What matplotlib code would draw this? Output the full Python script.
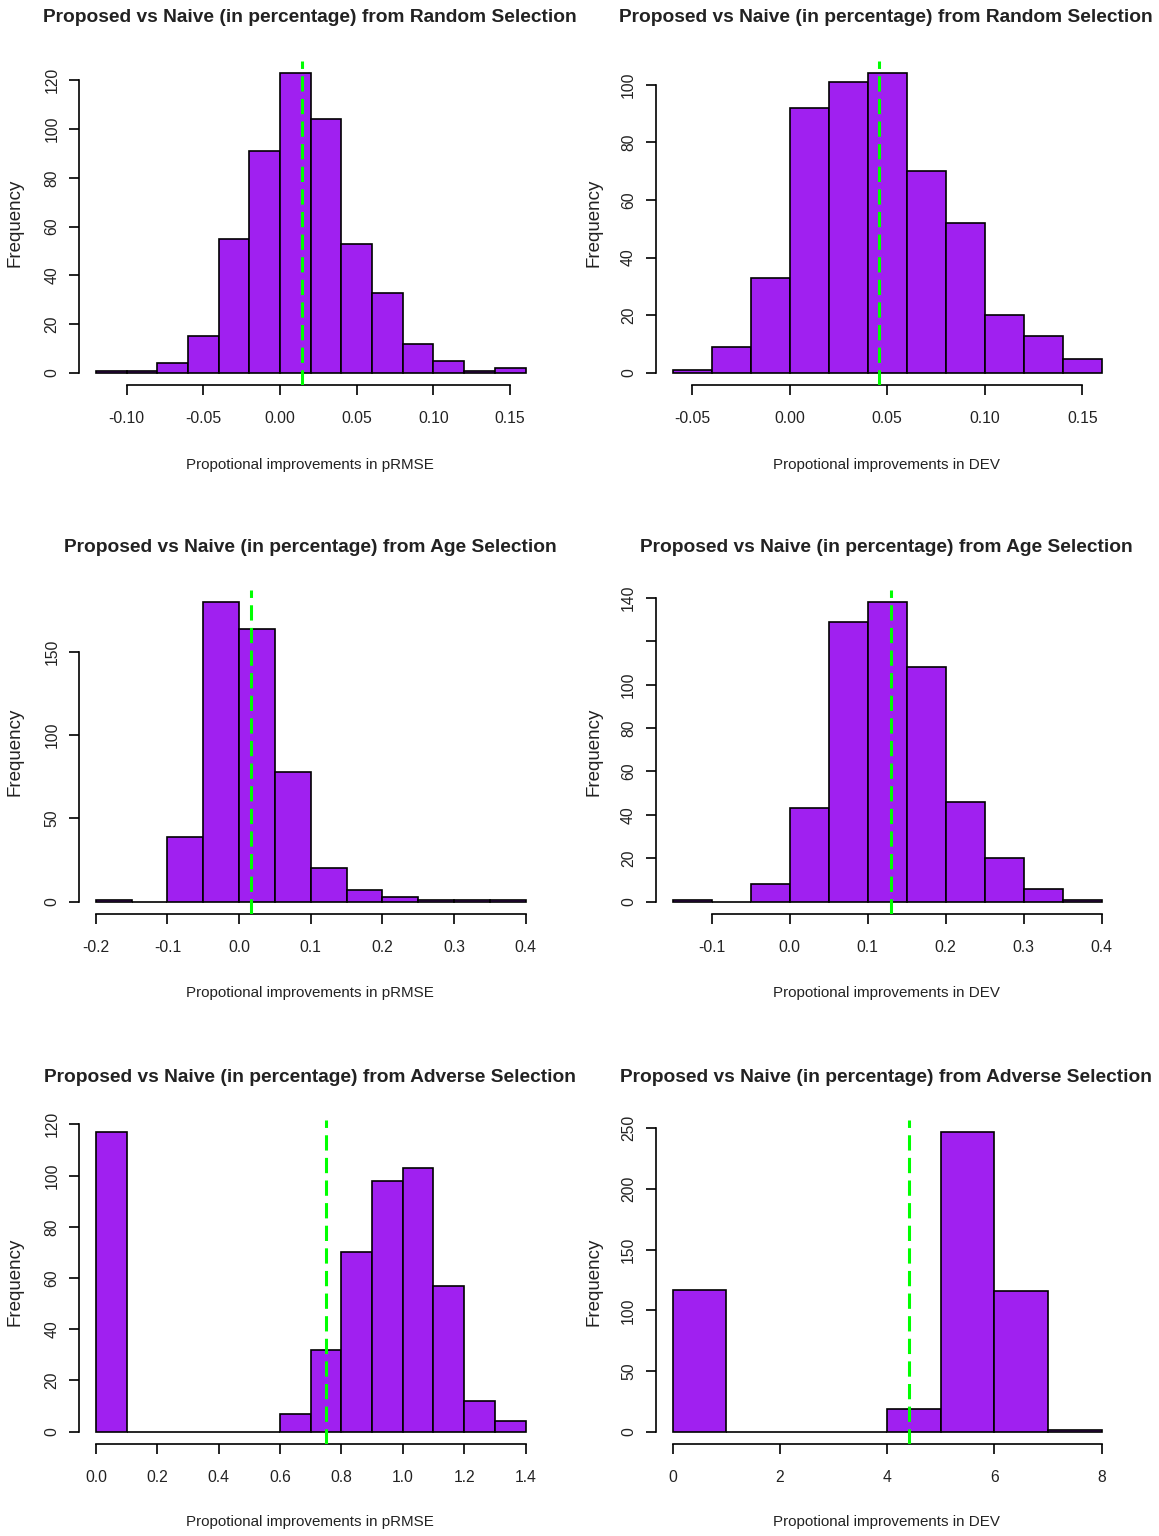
import numpy as np
import matplotlib
matplotlib.use("Agg")
import matplotlib.pyplot as plt

# ── Histogram data (bin start, bin width, counts) and mean lines ──
titles = [
    "Proposed vs Naive (in percentage) from Random Selection",
    "Proposed vs Naive (in percentage) from Random Selection",
    "Proposed vs Naive (in percentage) from Age Selection",
    "Proposed vs Naive (in percentage) from Age Selection",
    "Proposed vs Naive (in percentage) from Adverse Selection",
    "Proposed vs Naive (in percentage) from Adverse Selection",
]
xlabels = ["Propotional improvements in pRMSE", "Propotional improvements in DEV"] * 3

rand_prmse_start, rand_prmse_step = -0.12, 0.02
rand_prmse_counts = [1, 1, 4, 15, 55, 91, 123, 104, 53, 33, 12, 5, 1, 2]
rand_prmse_mean = 0.0145

rand_dev_start, rand_dev_step = -0.06, 0.02
rand_dev_counts = [1, 9, 33, 92, 101, 104, 70, 52, 20, 13, 5]
rand_dev_mean = 0.0457

age_prmse_start, age_prmse_step = -0.2, 0.05
age_prmse_counts = [1, 0, 39, 180, 164, 78, 20, 7, 3, 1, 1, 1]
age_prmse_mean = 0.0171

age_dev_start, age_dev_step = -0.15, 0.05
age_dev_counts = [1, 0, 8, 43, 129, 138, 108, 46, 20, 6, 1]
age_dev_mean = 0.1295

adv_prmse_start, adv_prmse_step = 0.0, 0.1
adv_prmse_counts = [117, 0, 0, 0, 0, 0, 7, 32, 70, 98, 103, 57, 12, 4]
adv_prmse_mean = 0.749

adv_dev_start, adv_dev_step = 0.0, 1.0
adv_dev_counts = [117, 0, 0, 0, 19, 247, 116, 1]
adv_dev_mean = 4.40

# tick values / labels
xticks = [
    [-0.10, -0.05, 0.00, 0.05, 0.10, 0.15],
    [-0.05, 0.00, 0.05, 0.10, 0.15],
    [-0.2, -0.1, 0.0, 0.1, 0.2, 0.3, 0.4],
    [-0.1, 0.0, 0.1, 0.2, 0.3, 0.4],
    [0.0, 0.2, 0.4, 0.6, 0.8, 1.0, 1.2, 1.4],
    [0, 2, 4, 6, 8],
]
xfmt = ["{:.2f}", "{:.2f}", "{:.1f}", "{:.1f}", "{:.1f}", "{:.0f}"]
yticks = [
    [0, 20, 40, 60, 80, 100, 120],
    [0, 20, 40, 60, 80, 100],
    [0, 50, 100, 150],
    [0, 20, 40, 60, 80, 100, 120, 140],
    [0, 20, 40, 60, 80, 100, 120],
    [0, 50, 100, 150, 200, 250],
]
ytick_labels = [
    ["0", "20", "40", "60", "80", "100", "120"],
    ["0", "20", "40", "60", "80", "100"],
    ["0", "50", "100", "150"],
    ["0", "20", "40", "60", "80", "100", "", "140"],
    ["0", "20", "40", "60", "80", "100", "120"],
    ["0", "50", "100", "150", "200", "250"],
]

panels = [
    (rand_prmse_start, rand_prmse_step, rand_prmse_counts, rand_prmse_mean),
    (rand_dev_start, rand_dev_step, rand_dev_counts, rand_dev_mean),
    (age_prmse_start, age_prmse_step, age_prmse_counts, age_prmse_mean),
    (age_dev_start, age_dev_step, age_dev_counts, age_dev_mean),
    (adv_prmse_start, adv_prmse_step, adv_prmse_counts, adv_prmse_mean),
    (adv_dev_start, adv_dev_step, adv_dev_counts, adv_dev_mean),
]

# ── Layout in pixels (R-style plot regions) ──
W, H = 1159, 1536
col_x = [(78.7, 542.7), (655.5, 1118.9)]
row_y = [(61, 385), (590, 913.7), (1120, 1443.7)]
title_y = [18, 548, 1077]
xlabel_y = [465, 993, 1522]
text_cx = [310, 886]
ylabel_x = [15.5, 594.5]

FONT = ["Liberation Sans", "DejaVu Sans"]
TXT = "#222222"

fig = plt.figure(figsize=(W / 100, H / 100), dpi=100)

for i, (start, step, counts, mean) in enumerate(panels):
    r, c = divmod(i, 2)
    x0, x1 = col_x[c]
    ytop, ybot = row_y[r]
    ax = fig.add_axes([x0 / W, 1 - ybot / H, (x1 - x0) / W, (ybot - ytop) / H])

    counts = np.array(counts)
    edges = start + step * np.arange(len(counts) + 1)
    ax.bar(edges[:-1], counts, width=step, align="edge",
           color="#A020F0", edgecolor="black", linewidth=1.2, zorder=2)
    ax.axvline(mean, color="#00FF00", lw=2.2, linestyle=(0, (5.0, 2.4)), zorder=3)

    # R-like 4% axis extension
    xr = edges[-1] - edges[0]
    ax.set_xlim(edges[0] - 0.04 * xr, edges[-1] + 0.04 * xr)
    ymax = counts.max()
    ax.set_ylim(-0.04 * ymax, ymax * 1.04)

    for s in ("top", "right"):
        ax.spines[s].set_visible(False)
    ax.spines["left"].set_bounds(yticks[i][0], yticks[i][-1])
    ax.spines["bottom"].set_bounds(xticks[i][0], xticks[i][-1])
    ax.spines["left"].set_linewidth(1.2)
    ax.spines["bottom"].set_linewidth(1.2)

    ax.set_xticks(xticks[i])
    ax.set_xticklabels([xfmt[i].format(v) for v in xticks[i]],
                       fontsize=11.3, family=FONT, color=TXT)
    ax.set_yticks(yticks[i])
    ax.set_yticklabels(ytick_labels[i], fontsize=11.3, family=FONT,
                       color=TXT, rotation=90, va="center")
    ax.tick_params(axis="both", direction="out", length=7, width=1.2)
    ax.tick_params(axis="x", pad=12)
    ax.tick_params(axis="y", pad=7)

    fig.text(text_cx[c] / W, 1 - title_y[r] / H, titles[i], ha="center", va="center",
             fontsize=13.8, fontweight="bold", family=FONT, color=TXT)
    fig.text(text_cx[c] / W, 1 - xlabel_y[r] / H, xlabels[i], ha="center", va="center",
             fontsize=10.9, family=FONT, color=TXT)
    fig.text(ylabel_x[c] / W, 1 - (ytop + ybot) / 2 / H, "Frequency", ha="center",
             va="center", rotation=90, fontsize=13.5, family=FONT, color=TXT)

fig.savefig("out.png", dpi=100)
